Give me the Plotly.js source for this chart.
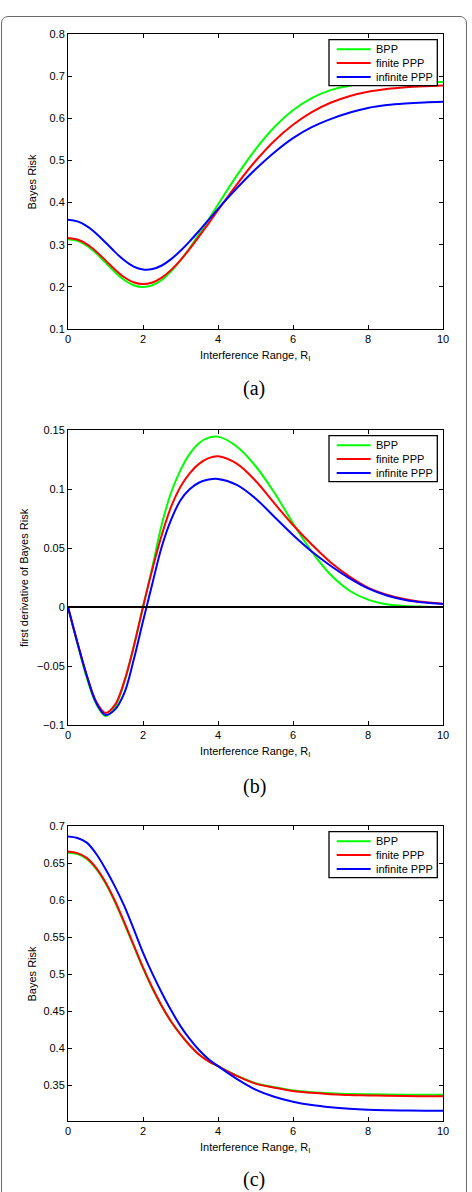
<!DOCTYPE html>
<html>
<head>
<meta charset="utf-8">
<script src="https://cdn.plot.ly/plotly-3.0.1.min.js"></script>
<style>
  html, body { margin: 0; padding: 0; background: #ffffff; }
  #wrap { position: relative; width: 472px; height: 1192px; overflow: hidden; }
  #frame {
    position: absolute; left: 1px; top: 16px; width: 466px; height: 1200px;
    border: 1.4px solid #6a6a6a; border-radius: 7px; box-sizing: border-box;
  }
  #chart { position: absolute; left: 0; top: 0; width: 472px; height: 1192px; }
</style>
</head>
<body>
<div id="wrap">
  <div id="frame"></div>
  <div id="chart"></div>
</div>
<script>
// Series metadata
const seriesNames  = ['BPP', 'finite PPP', 'infinite PPP'];
const seriesColors = ['#00ff00', '#ff0000', '#0000ff'];

// Interference range samples (finer below R_I = 4)
const rangeR = [0, 0.25, 0.5, 0.75, 1, 1.25, 1.5, 1.75, 2, 2.25, 2.5, 2.75, 3, 3.25, 3.5, 3.75,
                4, 4.5, 5, 5.5, 6, 6.5, 7, 7.5, 8, 8.5, 9, 9.5, 10];

// (a) Bayes risk
const riskA_bpp      = [0.313, 0.3091, 0.2975, 0.2796, 0.2575, 0.235, 0.2162, 0.2038, 0.1995, 0.2037, 0.2164,
                        0.2368, 0.2628, 0.2929, 0.3257, 0.3602, 0.3953, 0.4639, 0.5262, 0.5787, 0.6192, 0.648,
                        0.6668, 0.6774, 0.6825, 0.6848, 0.6856, 0.6859, 0.686];
const riskA_finite   = [0.316, 0.3123, 0.3013, 0.284, 0.2628, 0.2412, 0.2229, 0.2108, 0.2065, 0.2104, 0.222,
                        0.2403, 0.2636, 0.2908, 0.3202, 0.3508, 0.3819, 0.4428, 0.4986, 0.5463, 0.5846, 0.6146,
                        0.6368, 0.6524, 0.6628, 0.6694, 0.6736, 0.6762, 0.678];
const riskA_infinite = [0.359, 0.3553, 0.3443, 0.3269, 0.3053, 0.283, 0.263, 0.2482, 0.2412, 0.2422, 0.2507,
                        0.2658, 0.2856, 0.3086, 0.3333, 0.3591, 0.3852, 0.434, 0.479, 0.519, 0.553, 0.579,
                        0.598, 0.613, 0.6245, 0.6313, 0.6351, 0.6375, 0.639];

// (b) first derivative of Bayes risk
const derivB_bpp      = [0, -0.031, -0.06, -0.082, -0.0925, -0.085, -0.064, -0.034, 0.0, 0.034, 0.07, 0.097, 0.116,
                         0.13, 0.139, 0.1435, 0.1444, 0.136, 0.1195, 0.097, 0.071, 0.047, 0.0275, 0.014, 0.0062,
                         0.0023, 0.0008, 0.0003, 0.0001];
const derivB_finite   = [0, -0.030, -0.058, -0.080, -0.0898, -0.083, -0.063, -0.034, 0.0, 0.032, 0.061, 0.085, 0.102,
                         0.1135, 0.1215, 0.1262, 0.1278, 0.1215, 0.107, 0.088, 0.0695, 0.053, 0.038, 0.026, 0.0165,
                         0.0105, 0.0066, 0.0042, 0.0028];
const derivB_infinite = [0, -0.030, -0.058, -0.081, -0.0915, -0.087, -0.073, -0.045, -0.012, 0.02, 0.051, 0.074, 0.0905,
                         0.1, 0.1055, 0.108, 0.1085, 0.1035, 0.092, 0.0765, 0.061, 0.047, 0.035, 0.0245, 0.0158,
                         0.0098, 0.006, 0.0038, 0.0025];

// (c) Bayes risk
const riskC_bpp      = [0.664, 0.662, 0.6555, 0.642, 0.6225, 0.5975, 0.5685, 0.538, 0.508, 0.4805, 0.4565,
                        0.4357, 0.4185, 0.4036, 0.3912, 0.3823, 0.3757, 0.3628, 0.3525, 0.3472, 0.3428, 0.3405,
                        0.339, 0.338, 0.3375, 0.3372, 0.337, 0.3369, 0.3368];
const riskC_finite   = [0.6655, 0.6634, 0.657, 0.6435, 0.624, 0.599, 0.570, 0.5395, 0.509, 0.4815, 0.457,
                        0.436, 0.4185, 0.4035, 0.391, 0.382, 0.3755, 0.3625, 0.352, 0.3465, 0.342, 0.3395,
                        0.3378, 0.3365, 0.336, 0.3355, 0.3352, 0.335, 0.3348];
const riskC_infinite = [0.6857, 0.6837, 0.6775, 0.6625, 0.642, 0.6185, 0.592, 0.561, 0.529, 0.5005, 0.4748,
                        0.451, 0.4297, 0.412, 0.397, 0.385, 0.3757, 0.3585, 0.344, 0.3342, 0.3275, 0.323,
                        0.32, 0.318, 0.3167, 0.316, 0.3156, 0.3153, 0.3152];

// Axis labels
const xTickVals = [0, 2, 4, 6, 8, 10];
const xTitle = 'Interference Range, R<sub>I</sub>';
const yTitles = ['Bayes Risk', 'first derivative of Bayes Risk', 'Bayes Risk'];
const panelLabels = ['(a)', '(b)', '(c)'];

// ---- geometry helpers (pixel -> paper) ----
const W = 472, H = 1192;
const fx = v => v / W;
const fy = v => 1 - v / H;
const plotLeft = 68, plotRight = 443;

const panels = [
  { ys: [riskA_bpp, riskA_finite, riskA_infinite], top: 34, bottom: 329,
    range: [0.1, 0.8], tick0: 0.1, dtick: 0.1, yTitleX: 31, labelY: 388 },
  { ys: [derivB_bpp, derivB_finite, derivB_infinite], top: 430, bottom: 725,
    range: [-0.1, 0.15], tick0: 0, dtick: 0.05, yTitleX: 23.5, labelY: 786 },
  { ys: [riskC_bpp, riskC_finite, riskC_infinite], top: 826, bottom: 1121,
    range: [0.3015, 0.7], tick0: 0.35, dtick: 0.05, yTitleX: 31, labelY: 1179.5 }
];
panels[1].zeroLine = true;

const tickFont = { family: 'Liberation Sans, Arial, sans-serif', size: 11, color: '#000' };
const axisCommon = {
  showline: true, linecolor: '#000', linewidth: 1, mirror: 'ticks',
  ticks: 'inside', ticklen: 4, tickwidth: 1, tickcolor: '#000',
  showgrid: false, zeroline: false, tickfont: tickFont, fixedrange: true
};

const traces = [];
const layout = {
  width: W, height: H,
  margin: { l: 0, r: 0, t: 0, b: 0 },
  paper_bgcolor: 'rgba(0,0,0,0)', plot_bgcolor: '#ffffff',
  showlegend: false,
  shapes: [], annotations: []
};

panels.forEach((p, i) => {
  const n = i === 0 ? '' : String(i + 1);
  const xa = 'x' + n, ya = 'y' + n;

  p.ys.forEach((vals, k) => {
    traces.push({
      type: 'scatter', mode: 'lines', x: rangeR, y: vals, xaxis: xa, yaxis: ya,
      name: seriesNames[k], line: { color: seriesColors[k], width: 2, shape: 'spline', smoothing: 1 },
      hoverinfo: 'skip'
    });
  });
  if (p.zeroLine) {
    traces.push({
      type: 'scatter', mode: 'lines', x: [0, 10], y: [0, 0], xaxis: xa, yaxis: ya,
      line: { color: '#000', width: 2 }, hoverinfo: 'skip'
    });
  }

  layout['xaxis' + n] = Object.assign({}, axisCommon, {
    domain: [fx(plotLeft), fx(plotRight)], anchor: ya, range: [0, 10],
    tickmode: 'array', tickvals: xTickVals
  });
  layout['yaxis' + n] = Object.assign({}, axisCommon, {
    domain: [fy(p.bottom), fy(p.top)], anchor: xa, range: p.range,
    tick0: p.tick0, dtick: p.dtick
  });

  // legend box
  const t = p.top;
  layout.shapes.push({
    type: 'rect', xref: 'paper', yref: 'paper',
    x0: fx(329), x1: fx(437.3), y0: fy(t + 51.6), y1: fy(t + 5.6),
    line: { color: '#000', width: 1.3 }, fillcolor: '#ffffff', layer: 'above'
  });
  [15.3, 29, 43].forEach((dy, k) => {
    layout.shapes.push({
      type: 'line', xref: 'paper', yref: 'paper',
      x0: fx(336.7), x1: fx(370.7), y0: fy(t + dy), y1: fy(t + dy),
      line: { color: seriesColors[k], width: 2 }, layer: 'above'
    });
    layout.annotations.push({
      xref: 'paper', yref: 'paper', x: fx(373.5), y: fy(t + dy),
      xanchor: 'left', yanchor: 'middle', showarrow: false,
      text: seriesNames[k], font: tickFont
    });
  });

  // axis titles
  layout.annotations.push({
    xref: 'paper', yref: 'paper', x: fx((plotLeft + plotRight) / 2), y: fy(p.bottom + 18),
    xanchor: 'center', yanchor: 'top', showarrow: false, text: xTitle, font: tickFont
  });
  layout.annotations.push({
    xref: 'paper', yref: 'paper', x: fx(p.yTitleX), y: fy((p.top + p.bottom) / 2),
    xanchor: 'center', yanchor: 'middle', showarrow: false, textangle: -90,
    text: yTitles[i], font: tickFont
  });
  // sub-figure label
  layout.annotations.push({
    xref: 'paper', yref: 'paper', x: fx(254), y: fy(p.labelY),
    xanchor: 'center', yanchor: 'middle', showarrow: false,
    text: panelLabels[i], font: { family: 'Liberation Serif, DejaVu Serif, serif', size: 20, color: '#000' }
  });
});

Plotly.newPlot('chart', traces, layout, { staticPlot: true, displayModeBar: false });
</script>
</body>
</html>
